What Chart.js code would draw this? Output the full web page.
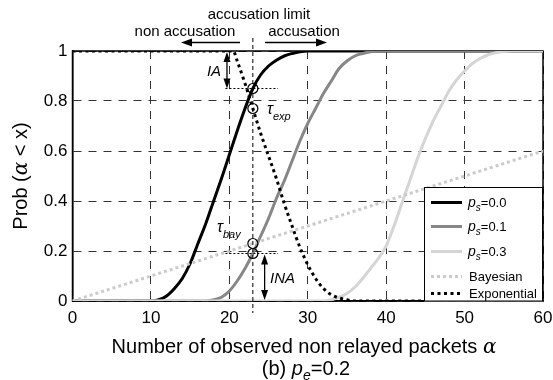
<!DOCTYPE html>
<html>
<head>
<meta charset="utf-8">
<script src="https://cdn.jsdelivr.net/npm/chart.js@4.4.1/dist/chart.umd.min.js"></script>
<style>
  body { margin: 0; background: #fff; }
  canvas { display: block; }
</style>
</head>
<body>
<canvas id="chart" width="553" height="380"></canvas>
<script>
// data
const limitX = 23;

const xTicks = [0, 10, 20, 30, 40, 50, 60];
const yTicks = [0, 0.2, 0.4, 0.6, 0.8, 1];

const ps0X = [0, 10, 11, 12, 13, 14, 15, 16, 17, 18, 19, 20, 21, 22, 23, 24, 25, 26, 27, 28, 29, 30, 60];
const ps0Y = [0, 0, 0.005, 0.02, 0.05, 0.09, 0.15, 0.23, 0.31, 0.4, 0.49, 0.585, 0.68, 0.77, 0.85, 0.905, 0.94, 0.963, 0.98, 0.99, 0.997, 1, 1];

const ps1X = [0, 17, 18, 19, 20, 21, 22, 23, 24, 25, 26, 27, 28, 29, 30, 31, 32, 33, 34, 35, 36, 37, 38, 39, 60];
const ps1Y = [0, 0, 0.005, 0.015, 0.04, 0.08, 0.13, 0.19, 0.26, 0.33, 0.41, 0.48, 0.56, 0.64, 0.71, 0.77, 0.83, 0.88, 0.93, 0.96, 0.98, 0.99, 0.997, 1, 1];

const ps3X = [0, 32, 33, 34, 35, 36, 37, 38, 39, 40, 41, 42, 43, 44, 45, 46, 47, 48, 49, 50, 51, 52, 53, 54, 55, 56, 60];
const ps3Y = [0, 0, 0.005, 0.015, 0.03, 0.055, 0.09, 0.13, 0.17, 0.22, 0.3, 0.39, 0.48, 0.57, 0.65, 0.72, 0.78, 0.84, 0.885, 0.92, 0.95, 0.97, 0.985, 0.993, 0.998, 1, 1];

const bayesX = [0, 60];
const bayesY = [0, 0.6];

const expX = [0, 20.5, 21, 22, 23, 24, 25, 26, 27, 28, 29, 30, 31, 32, 33, 34, 35, 36, 60];
const expY = [1, 1, 0.96, 0.87, 0.77, 0.67, 0.58, 0.49, 0.39, 0.3, 0.215, 0.145, 0.09, 0.05, 0.025, 0.012, 0.005, 0, 0];

// circles on the accusation limit
const markX = [23, 23, 23, 23];
const markY = [0.85, 0.77, 0.23, 0.19];

const FONT = '"Liberation Sans", Arial, Helvetica, sans-serif';

function pts(xs, ys) {
    return xs.map((x, i) => ({ x: x, y: ys[i] }));
}

function line(label, xs, ys, color, dash, order) {
    return {
        label: label,
        data: pts(xs, ys),
        borderColor: color,
        borderWidth: 3,
        borderDash: dash,
        borderCapStyle: 'butt',
        pointRadius: 0,
        fill: false,
        cubicInterpolationMode: 'monotone',
        order: order
    };
}

// draw runs of text, some with italic / subscript pieces
function runs(ctx, x, y, parts, align) {
    let w = 0;
    parts.forEach(p => { ctx.font = p.f; w += ctx.measureText(p.t).width; });
    let cx = align === 'center' ? x - w / 2 : x;
    ctx.textAlign = 'left';
    ctx.textBaseline = 'alphabetic';
    parts.forEach(p => {
        ctx.font = p.f;
        ctx.fillText(p.t, cx, y + (p.dy || 0));
        cx += ctx.measureText(p.t).width;
    });
}

function arrowHead(ctx, x, y, dir) {
    // dir: 'l','r','u','d'
    ctx.beginPath();
    if (dir === 'l') { ctx.moveTo(x, y); ctx.lineTo(x + 11, y - 4); ctx.lineTo(x + 11, y + 4); }
    if (dir === 'r') { ctx.moveTo(x, y); ctx.lineTo(x - 11, y - 4); ctx.lineTo(x - 11, y + 4); }
    if (dir === 'u') { ctx.moveTo(x, y); ctx.lineTo(x - 3.5, y + 10); ctx.lineTo(x + 3.5, y + 10); }
    if (dir === 'd') { ctx.moveTo(x, y); ctx.lineTo(x - 3.5, y - 10); ctx.lineTo(x + 3.5, y - 10); }
    ctx.closePath();
    ctx.fill();
}

const overlay = {
    id: 'overlay',
    beforeDatasetsDraw(chart) {
        const a = chart.chartArea, ctx = chart.ctx;
        ctx.save();
        ctx.strokeStyle = '#000';
        ctx.lineWidth = 1.5;
        ctx.strokeRect(a.left, a.top, a.right - a.left, a.bottom - a.top);
        ctx.restore();
    },
    afterDraw(chart) {
        const ctx = chart.ctx, a = chart.chartArea;
        const xs = chart.scales.x, ys = chart.scales.y;
        const lx = xs.getPixelForValue(limitX);
        ctx.save();
        ctx.fillStyle = '#000';
        ctx.strokeStyle = '#000';

        // accusation limit line
        ctx.lineWidth = 1;
        ctx.setLineDash([4, 3]);
        ctx.beginPath();
        ctx.moveTo(lx, 38);
        ctx.lineTo(lx, 313);
        ctx.stroke();

        // dotted helper lines
        ctx.setLineDash([2, 2]);
        ctx.beginPath();
        ctx.moveTo(xs.getPixelForValue(19.5), ys.getPixelForValue(markY[0]));
        ctx.lineTo(xs.getPixelForValue(26.2), ys.getPixelForValue(markY[0]));
        ctx.moveTo(xs.getPixelForValue(19.5), ys.getPixelForValue(markY[3]));
        ctx.lineTo(xs.getPixelForValue(26.2), ys.getPixelForValue(markY[3]));
        ctx.stroke();
        ctx.setLineDash([]);

        // top arrows
        ctx.lineWidth = 1.3;
        ctx.beginPath();
        ctx.moveTo(240, 42.5); ctx.lineTo(188, 42.5);
        ctx.moveTo(265, 42.5); ctx.lineTo(320, 42.5);
        ctx.stroke();
        arrowHead(ctx, 181, 42.5, 'l');
        arrowHead(ctx, 327, 42.5, 'r');

        // IA arrow
        const iaX = xs.getPixelForValue(19.7);
        const y1 = ys.getPixelForValue(1), yIa = ys.getPixelForValue(markY[0]);
        ctx.beginPath();
        ctx.moveTo(iaX, y1 + 6); ctx.lineTo(iaX, yIa - 6);
        ctx.stroke();
        arrowHead(ctx, iaX, y1 + 1, 'u');
        arrowHead(ctx, iaX, yIa, 'd');

        // INA arrow
        const inaX = xs.getPixelForValue(24.5);
        const yIna = ys.getPixelForValue(markY[3]), y0 = ys.getPixelForValue(0);
        ctx.beginPath();
        ctx.moveTo(inaX, yIna + 6); ctx.lineTo(inaX, y0 - 6);
        ctx.stroke();
        arrowHead(ctx, inaX, yIna + 1, 'u');
        arrowHead(ctx, inaX, y0 - 1, 'd');

        // texts
        const n15 = '15px ' + FONT, i15 = 'italic 15px ' + FONT;
        runs(ctx, 259, 19, [{ t: 'accusation limit', f: n15 }], 'center');
        runs(ctx, 185, 36, [{ t: 'non accusation', f: n15 }], 'center');
        runs(ctx, 304, 36, [{ t: 'accusation', f: n15 }], 'center');
        runs(ctx, 214, 76, [{ t: 'IA', f: i15 }], 'center');
        runs(ctx, 270, 283, [{ t: 'INA', f: i15 }], 'left');
        runs(ctx, 267, 114, [{ t: 'τ', f: 'italic 16px ' + FONT }, { t: 'exp', f: 'italic 11px ' + FONT, dy: 6 }], 'left');
        runs(ctx, 217, 232, [{ t: 'τ', f: 'italic 16px ' + FONT }, { t: 'bay', f: 'italic 11px ' + FONT, dy: 6 }], 'left');

        // axis titles
        const n20 = '20px ' + FONT, i20 = 'italic 20px "DejaVu Serif", serif';
        runs(ctx, 304, 353, [{ t: 'Number of observed non relayed packets ', f: n20 }, { t: 'α', f: i20 }], 'center');
        runs(ctx, 306, 375, [{ t: '(b) ', f: n20 }, { t: 'p', f: 'italic 20px ' + FONT }, { t: 'e', f: 'italic 14px ' + FONT, dy: 5 }, { t: '=0.2', f: n20 }], 'center');
        ctx.save();
        ctx.translate(27, 176);
        ctx.rotate(-Math.PI / 2);
        runs(ctx, 0, 0, [{ t: 'Prob (', f: n20 }, { t: 'α', f: i20 }, { t: ' < x)', f: n20 }], 'center');
        ctx.restore();

        // legend
        const lg = { l: 424, t: 187, r: 543, b: 301.5 };
        ctx.fillStyle = '#fff';
        ctx.fillRect(lg.l, lg.t, lg.r - lg.l, lg.b - lg.t);
        ctx.strokeStyle = '#000';
        ctx.lineWidth = 1;
        ctx.strokeRect(lg.l + 0.5, lg.t + 0.5, lg.r - lg.l - 1, lg.b - lg.t - 1);
        const rows = [202.5, 226.5, 251.5, 276.5, 293.5];
        const items = chart.data.datasets.filter(d => d.label !== 'marks');
        const n13 = '13px ' + FONT;
        items.forEach((d, i) => {
            ctx.strokeStyle = d.borderColor;
            ctx.lineWidth = 3;
            ctx.setLineDash(d.borderDash || []);
            ctx.beginPath();
            ctx.moveTo(431, rows[i]);
            ctx.lineTo(462, rows[i]);
            ctx.stroke();
            ctx.setLineDash([]);
            ctx.fillStyle = '#000';
            if (d.label.startsWith('ps=')) {
                runs(ctx, 468, rows[i] + 4, [{ t: 'p', f: 'italic 14px ' + FONT }, { t: 's', f: 'italic 10px ' + FONT, dy: 4 }, { t: d.label.slice(2), f: n13 }], 'left');
            } else {
                runs(ctx, 469, rows[i] + 4.5, [{ t: d.label, f: n13 }], 'left');
            }
        });
        ctx.restore();
    }
};

new Chart(document.getElementById('chart'), {
    type: 'line',
    data: {
        datasets: [
            line('ps=0.0', ps0X, ps0Y, '#000000', [], 6),
            line('ps=0.1', ps1X, ps1Y, '#878787', [], 5),
            line('ps=0.3', ps3X, ps3Y, '#d5d5d5', [], 4),
            line('Bayesian', bayesX, bayesY, '#cbcbcb', [3, 3], 3),
            line('Exponential', expX, expY, '#000000', [3, 3.5], 2),
            {
                label: 'marks',
                data: pts(markX, markY),
                showLine: false,
                pointStyle: 'circle',
                pointRadius: 5,
                pointBorderWidth: 1.2,
                pointBorderColor: '#000',
                pointBackgroundColor: 'rgba(0,0,0,0)',
                clip: false,
                order: 1
            }
        ]
    },
    options: {
        responsive: false,
        animation: false,
        layout: { padding: { top: 51, right: 0, left: 0, bottom: 0 } },
        plugins: {
            legend: { display: false },
            tooltip: { enabled: false }
        },
        scales: {
            x: {
                type: 'linear',
                min: xTicks[0],
                max: xTicks[xTicks.length - 1],
                afterBuildTicks: s => { s.ticks = xTicks.map(v => ({ value: v })); },
                afterFit: s => { s.height = 79; s.paddingRight = 10; },
                ticks: { color: '#000', font: { size: 17, family: FONT }, padding: 7, maxRotation: 0 },
                grid: { color: '#333', lineWidth: 1, drawTicks: false },
                border: { color: '#000', width: 1.5, dash: [8, 7] }
            },
            y: {
                type: 'linear',
                min: yTicks[0],
                max: yTicks[yTicks.length - 1],
                afterBuildTicks: s => { s.ticks = yTicks.map(v => ({ value: v })); },
                afterFit: s => { s.width = 72.5; },
                ticks: {
                    color: '#000', font: { size: 17, family: FONT }, padding: 5,
                    callback: v => String(+v.toFixed(1))
                },
                grid: { color: '#333', lineWidth: 1, drawTicks: false },
                border: { color: '#000', width: 1.5, dash: [8, 7] }
            }
        }
    },
    plugins: [overlay]
});
</script>
</body>
</html>
